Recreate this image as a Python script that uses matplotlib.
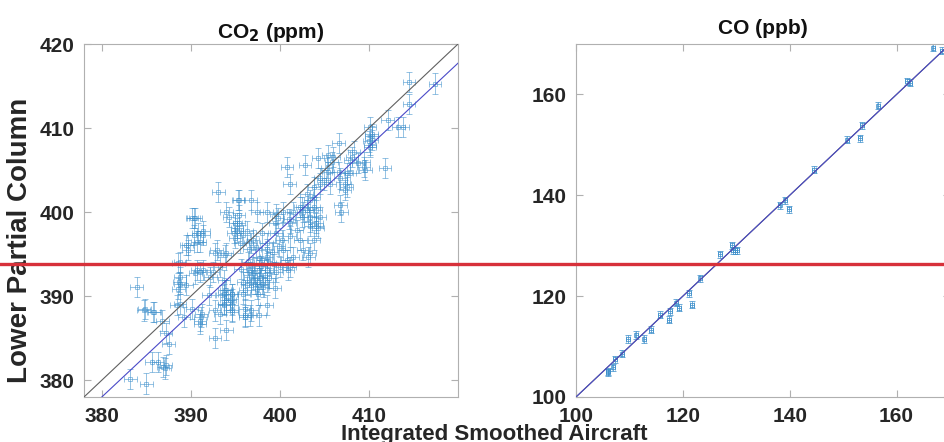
import matplotlib
matplotlib.use("Agg")
import matplotlib.pyplot as plt
import numpy as np
from matplotlib.lines import Line2D

plt.rcParams['font.family'] = ['Liberation Sans', 'DejaVu Sans']
plt.rcParams['font.weight'] = 'bold'

# ---------------- data ----------------
co2_x = [414.5, 417.4, 414.5, 412.1, 413.3, 413.8, 410.1, 410.3, 410.3, 410.1, 410.0, 410.3, 410.1,
         406.6, 408.3, 408.1, 407.9, 408.8, 409.4, 409.6, 409.4, 411.8, 406.0, 405.4, 405.8, 404.3,
         402.8, 400.8, 401.1, 406.6, 406.8, 407.5, 407.9, 407.3, 407.3, 407.5, 405.4, 404.5, 404.9,
         405.6, 405.3, 404.5, 406.8, 406.9, 403.8, 403.0, 403.4, 403.8, 403.8, 402.5, 403.0, 404.0,
         402.3, 402.6, 401.5, 403.4, 404.1, 404.3, 404.5, 403.4, 402.5, 401.0, 401.1, 399.8, 399.5,
         400.4, 399.6, 398.5, 397.4, 395.4, 394.0, 394.3, 393.1, 395.3, 396.7, 395.4, 390.1, 390.5,
         390.3,
         390.8, 390.3, 390.7, 391.4, 391.4, 391.0, 389.7, 389.5, 389.7, 392.7, 393.8, 392.9, 394.0,
         395.0, 395.2, 395.4, 394.8, 395.2, 395.0, 395.9, 396.3, 395.5, 396.7, 397.0, 398.0, 398.5,
         399.6, 400.2, 400.4, 401.1, 401.5, 400.8, 399.1, 398.5, 398.0, 401.9, 402.3, 402.6, 403.4,
         403.8, 404.1, 403.4, 403.2, 401.1, 400.9, 399.6, 400.0, 396.5, 397.3, 399.9, 398.6,
         397.6, 397.8, 397.4, 398.0, 397.4, 397.0, 398.1, 398.3, 398.5, 395.9, 396.1, 396.3, 396.7,
         396.5, 397.2, 398.5, 395.9, 397.1, 397.9, 398.8, 397.5, 396.9, 398.9, 399.3, 397.7, 396.4,
         395.6, 399.4,
         393.7, 393.8, 393.5, 394.0, 394.6, 394.6, 392.5, 392.2, 393.3, 391.4, 391.0, 390.5, 390.7,
         388.6, 388.7, 388.8, 388.6, 389.5, 388.8, 388.8, 388.4, 389.2, 390.1, 388.8, 391.1, 391.2,
         391.0, 391.0, 392.7, 393.3, 393.7, 394.6, 392.0, 393.7, 394.4, 394.6, 394.0, 393.7, 392.7,
         394.0, 396.1, 396.1, 396.8, 396.6, 397.7, 398.5, 394.6, 394.6, 396.1,
         383.9, 384.7, 384.8, 385.9, 385.8, 386.8, 387.2, 387.5, 385.6, 386.3, 386.9, 387.2, 387.1,
         383.2, 385.0]
co2_y = [415.5, 415.3, 412.9, 411.0, 410.1, 410.1, 410.1, 409.3, 408.6, 408.0, 408.4, 409.0, 407.8,
         408.2, 407.2, 406.6, 406.2, 405.8, 405.4, 405.0, 406.0, 405.2, 406.6, 406.8, 406.0, 406.4,
         405.6, 405.4, 403.3, 404.8, 404.0, 404.6, 404.6, 403.4, 402.6, 403.0, 404.8, 404.0, 403.8,
         403.4, 405.2, 403.4, 400.8, 400.0, 403.0, 402.2, 401.4, 401.8, 400.6, 400.6, 400.2, 400.2,
         400.6, 400.0, 400.0, 398.3, 398.7, 398.1, 399.4, 399.4, 399.4, 399.2, 398.7, 399.3, 398.7,
         400.0, 399.8, 400.0, 400.0, 399.6, 400.0, 399.4, 402.4, 401.4, 401.4, 401.4, 399.3, 399.3,
         399.3,
         397.5, 397.3, 396.5, 397.7, 397.3, 396.5, 396.1, 396.1, 395.5, 395.1, 394.9, 395.5, 395.1,
         396.9, 397.7, 398.7, 397.5, 398.1, 398.7, 397.3, 397.7, 396.3, 396.3, 396.7, 397.5, 396.3,
         397.5, 396.7, 395.5, 397.1, 394.7, 394.3, 395.3, 394.7, 394.3, 397.9, 396.7, 395.5, 395.1,
         396.7, 398.3, 398.8, 394.7, 393.5, 393.1, 392.9, 393.5, 395.6, 395.9, 396.0, 395.6,
         393.1, 392.1, 391.5, 391.5, 390.9, 391.9, 391.1, 392.5, 393.1, 391.7, 390.7, 391.3, 392.3,
         392.9, 391.5, 391.7, 390.3, 392.8, 393.6, 392.2, 390.2, 393.4, 394.0, 393.8, 394.5, 394.1,
         393.2, 391.0,
         391.9, 390.7, 390.1, 389.5, 389.7, 388.3, 392.9, 392.3, 393.5, 393.1, 392.9, 392.7, 393.1,
         393.9, 391.7, 391.5, 390.9, 391.3, 394.1, 392.3, 388.9, 387.5, 388.5, 389.1, 387.5, 387.9,
         386.7, 387.1, 388.3, 387.9, 388.9, 388.9, 390.1, 389.1, 389.5, 390.3, 390.7, 390.3, 385.0,
         386.0, 388.5, 387.7, 388.3, 387.7, 387.7, 388.9, 390.3, 388.1, 387.5,
         391.1, 388.3, 388.5, 388.1, 388.1, 387.1, 385.6, 384.3, 382.2, 382.2, 381.6, 381.8, 381.4,
         380.1, 379.6]
co2_xerr = 0.7
co2_yerr = 1.2
co2_fit = [0.993, 0.66]   # slope, intercept

co_x = [166.9, 168.5, 161.9, 162.6, 156.6, 153.5, 153.1, 150.8, 144.6, 139.2, 138.1, 139.9,
        129.2, 129.7, 130.1, 129.4, 126.9, 123.3, 121.1, 118.8, 119.3, 121.7, 117.6, 117.4,
        115.7, 114.0, 112.8, 111.3, 109.7, 108.7, 107.3, 107.0, 106.0, 105.9]
co_y = [169.3, 168.7, 162.6, 162.3, 157.8, 153.9, 151.3, 151.0, 145.1, 139.0, 138.0, 137.2,
        130.1, 129.1, 129.1, 129.1, 128.3, 123.5, 120.6, 118.7, 117.7, 118.3, 117.0, 115.3,
        116.3, 113.3, 111.5, 112.3, 111.5, 108.6, 107.5, 105.9, 105.1, 104.9]
co_xerr = 0.35
co_yerr = 0.7
co_fit = [1.0, 0.0]

co2_xticks = [380, 390, 400, 410]
co2_yticks = [380, 390, 400, 410, 420]
co_ticks = [100, 120, 140, 160]

# ---------------- figure ----------------
W, H = 944, 442
fig = plt.figure(figsize=(W / 100, H / 100), dpi=100)

pt_col = '#3d8fcb'
fit_col = '#4a4ac8'
one_col = '#606060'

def style(ax):
    for s in ax.spines.values():
        s.set_color('#b0b0b0')
        s.set_linewidth(0.8)
    ax.tick_params(direction='in', length=5, width=0.8, color='#b0b0b0',
                   top=True, right=True, labelsize=15, labelcolor='#262626', pad=7)
    for lab in ax.get_xticklabels() + ax.get_yticklabels():
        lab.set_fontweight('bold')

ax1 = fig.add_axes([84 / W, 1 - 397 / H, 374 / W, 353 / H])
ax1.set_xlim(378, 420)
ax1.set_ylim(378, 420)
xx = np.array([378, 420])
ax1.plot(xx, xx, color=one_col, lw=0.8, zorder=3)
ax1.plot(xx, co2_fit[0] * xx + co2_fit[1], color=fit_col, lw=0.8, zorder=3)
ax1.errorbar(co2_x, co2_y, xerr=co2_xerr, yerr=co2_yerr, fmt='s', ms=3.2,
             mfc='none', mec=pt_col, mew=0.7, ecolor=pt_col, elinewidth=0.7,
             capsize=2.5, capthick=0.7, alpha=0.55, zorder=2)
ax1.set_xticks(co2_xticks)
ax1.set_yticks(co2_yticks)
style(ax1)
ax1.set_title('CO$_\\mathbf{2}$ (ppm)', fontsize=15, fontweight='bold', pad=4, color='#111111')

ax2 = fig.add_axes([576 / W, 1 - 397 / H, 374 / W, 353 / H])
ax2.set_xlim(100, 170)
ax2.set_ylim(100, 170)
xx2 = np.array([100, 170])
ax2.plot(xx2, xx2, color=one_col, lw=0.8, zorder=3)
ax2.plot(xx2, co_fit[0] * xx2 + co_fit[1], color=fit_col, lw=0.8, zorder=3)
ax2.errorbar(co_x, co_y, xerr=co_xerr, yerr=co_yerr, fmt='s', ms=3.0,
             mfc='none', mec=pt_col, mew=0.7, ecolor=pt_col, elinewidth=0.7,
             capsize=2.0, capthick=0.7, alpha=0.75, zorder=2)
ax2.set_xticks(co_ticks)
ax2.set_yticks(co_ticks)
style(ax2)
ax2.set_title('CO (ppb)', fontsize=15, fontweight='bold', pad=7, color='#111111')

fig.text(20 / W, 1 - 240 / H, 'Lower Partial Column', rotation=90, fontsize=20,
         fontweight='bold', ha='center', va='center', color='#262626')
fig.text(494 / W, 1 - 424 / H, 'Integrated Smoothed Aircraft', fontsize=16,
         fontweight='bold', ha='center', va='top', color='#262626')

fig.add_artist(Line2D([0, 1], [1 - 264 / H, 1 - 264 / H], transform=fig.transFigure,
                      color='#d7313a', lw=2.4, zorder=10))

fig.savefig('out.png', dpi=100)
